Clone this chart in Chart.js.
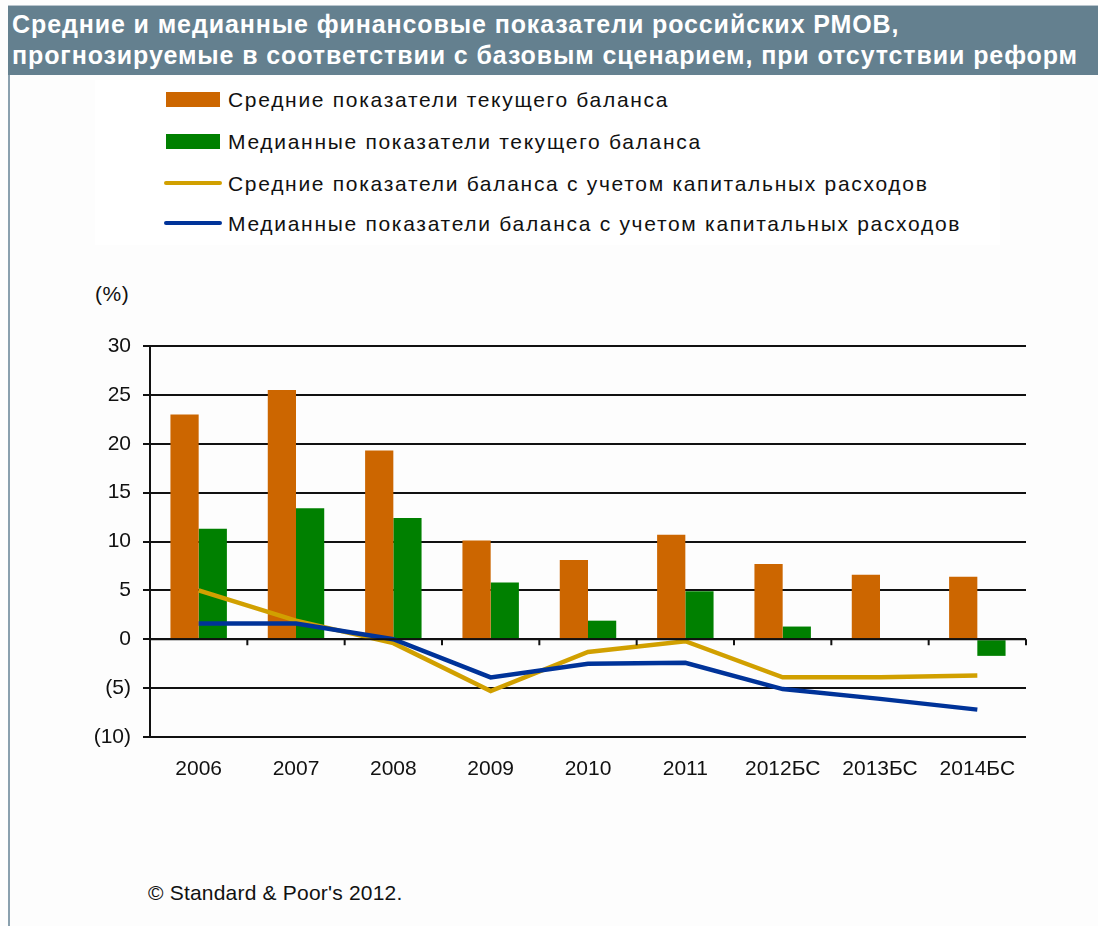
<!DOCTYPE html>
<html>
<head>
<meta charset="utf-8">
<script src="https://cdn.jsdelivr.net/npm/chart.js@4"></script>
<style>
  html, body { margin:0; padding:0; background:#fdfdfd; }
  body { width:1098px; height:926px; overflow:hidden; position:relative; font-family:"Liberation Sans", Arial, sans-serif; color:#111; }
  #titlebar { position:absolute; left:8px; top:5px; right:0; height:70px; background:#64808f; border-top:1px solid #b8c4cc; box-sizing:border-box; }
  #title { position:absolute; left:4px; top:3px; color:#fff; font-family:"Liberation Sans Narrow", "Liberation Sans", Arial, sans-serif; font-weight:bold; font-size:25px; line-height:31px; white-space:nowrap; letter-spacing:0.9px; }
  #leftline { position:absolute; left:8px; top:75px; width:2px; bottom:0; background:#8aa0ae; }
  #legend { position:absolute; left:95px; top:80px; width:905px; height:165px; background:#fff; }
  .li { position:absolute; left:69px; height:40px; }
  .sw { position:absolute; left:2px; }
  .lt { position:absolute; font-size:21px; line-height:24px; white-space:nowrap; color:#111; letter-spacing:1.7px; }
  #unit { position:absolute; left:95px; top:282px; font-size:21px; line-height:24px; letter-spacing:0.5px; }
  #wrap { position:absolute; left:0; top:250px; width:1098px; height:560px; }
  #foot { position:absolute; left:148px; top:881px; font-size:21px; line-height:24px; white-space:nowrap; letter-spacing:0.2px; }
</style>
</head>
<body>
<div id="titlebar"><div id="title">Средние и медианные финансовые показатели российских РМОВ,<br>прогнозируемые в соответствии с базовым сценарием, при отсутствии реформ</div></div>
<div id="leftline"></div>
<div id="legend"></div>
<div id="unit">(%)</div>
<div id="wrap"><canvas id="c"></canvas></div>
<div id="foot">© Standard &amp; Poor's 2012.</div>
<script>
const categories = ['2006','2007','2008','2009','2010','2011','2012БС','2013БС','2014БС'];
const avgCurrent = [23.0, 25.5, 19.3, 10.1, 8.1, 10.7, 7.7, 6.6, 6.4];
const medCurrent = [11.3, 13.4, 12.4, 5.8, 1.9, 4.9, 1.3, 0, -1.7];
const avgCapex   = [5.0, 1.9, -0.4, -5.3, -1.3, -0.2, -3.9, -3.9, -3.7];
const medCapex   = [1.6, 1.6, 0.0, -3.9, -2.5, -2.4, -5.1, -6.1, -7.2];
const seriesNames = [
  'Средние показатели текущего баланса',
  'Медианные показатели текущего баланса',
  'Средние показатели баланса с учетом капитальных расходов',
  'Медианные показатели баланса с учетом капитальных расходов'
];
const seriesColors = ['#cc6600', '#008000', '#d1a000', '#003399'];
const seriesKinds = ['bar', 'bar', 'line', 'line'];
const yTicks = [-10, -5, 0, 5, 10, 15, 20, 25, 30];

// HTML legend built from series arrays
const leg = document.getElementById('legend');
const rowTops = [0, 42, 84, 124];
seriesNames.forEach((n, i) => {
  const d = document.createElement('div');
  d.className = 'li';
  d.style.top = (rowTops[i]) + 'px';
  const sw = document.createElement('div');
  sw.className = 'sw';
  if (seriesKinds[i] === 'bar') {
    sw.style.cssText = 'left:2px;top:12px;width:54px;height:15px;background:' + seriesColors[i];
  } else {
    sw.style.cssText = 'left:0px;top:17px;width:58px;height:4px;border-radius:2px;background:' + seriesColors[i];
  }
  const t = document.createElement('div');
  t.className = 'lt';
  t.style.left = '64px';
  t.style.top = '8px';
  t.textContent = n;
  d.appendChild(sw); d.appendChild(t);
  leg.appendChild(d);
});

// small tick marks below the zero line at category boundaries, from the scales
const zeroTicks = {
  id: 'zeroTicks',
  afterDatasetsDraw(chart) {
    const xs = chart.scales.x, ys = chart.scales.y, ctx = chart.ctx;
    const y0 = ys.getPixelForValue(0);
    const n = xs.getLabels().length;
    ctx.save();
    ctx.strokeStyle = '#111';
    ctx.lineWidth = 2;
    ctx.beginPath();
    ctx.moveTo(xs.left, y0); ctx.lineTo(xs.right, y0);
    for (let i = 0; i <= n; i++) {
      const x = xs.getPixelForValue(i - 0.5);
      ctx.moveTo(x, y0); ctx.lineTo(x, y0 + 6);
    }
    ctx.stroke();
    ctx.restore();
  }
};

const fontTick = { family: '"Liberation Sans", Arial, sans-serif', size: 21 };
const data = [avgCurrent, medCurrent, avgCapex, medCapex];
new Chart(document.getElementById('c'), {
  type: 'bar',
  plugins: [zeroTicks],
  data: {
    labels: categories,
    datasets: seriesNames.map((n, i) => ({
      type: seriesKinds[i],
      label: n,
      data: data[i],
      backgroundColor: seriesColors[i],
      borderColor: seriesColors[i],
      borderWidth: seriesKinds[i] === 'bar' ? 0 : 4.5,
      pointRadius: 0,
      tension: 0,
      categoryPercentage: 0.58,
      barPercentage: 1.0,
      order: seriesKinds[i] === 'bar' ? 3 : (i === 3 ? 0 : 1)
    }))
  },
  options: {
    responsive: true,
    maintainAspectRatio: false,
    animation: false,
    layout: { padding: { left: 0, right: 72, top: 96, bottom: 0 } },
    plugins: { legend: { display: false }, tooltip: { enabled: false } },
    scales: {
      x: {
        type: 'category',
        offset: true,
        grid: { display: false, drawTicks: false },
        border: { display: false },
        ticks: { color: '#111', font: fontTick, padding: 20, maxRotation: 0, autoSkip: false },
        afterFit: s => { s.height = 73; }
      },
      y: {
        min: -10, max: 30,
        afterBuildTicks: s => { s.ticks = yTicks.map(v => ({ value: v })); },
        grid: { color: '#111', lineWidth: 2, tickLength: 7 },
        border: { display: true, color: '#111', width: 2 },
        ticks: { color: '#111', font: fontTick, padding: 12,
          callback: v => v < 0 ? '(' + (-v) + ')' : String(v) },
        afterFit: s => { s.width = 150; }
      }
    }
  }
});
</script>
</body>
</html>
